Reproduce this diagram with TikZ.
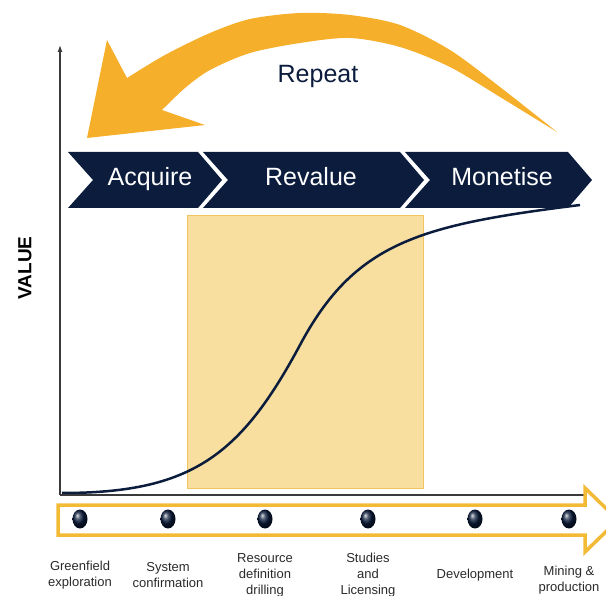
\documentclass[tikz,border=0pt]{standalone}
\usepackage{fontspec}
\setmainfont{Liberation Sans}
\usepackage{tikz}
\usetikzlibrary{
    arrows.meta,
    shapes.geometric
}

\definecolor{phasenavy}{HTML}{0B1C3D}
\definecolor{repeatorange}{HTML}{F5AF2B}
\definecolor{zonefill}{HTML}{F8DF9F}
\definecolor{zoneline}{HTML}{F0C45E}
\definecolor{lineorange}{HTML}{F3BA35}
\definecolor{labelgrey}{HTML}{2A2A2A}
\definecolor{axisgrey}{HTML}{3A3A3A}

\begin{document}
\begin{tikzpicture}[
        x=1pt,
        y=-1pt,
        phase/.style={
            text=white,
            anchor=base,
            font=\fontsize{25}{30}\selectfont
        },
        stage/.style={
            align=center,
            text=labelgrey,
            font=\fontsize{13}{16}\selectfont
        },
        milestone/.style={
            ellipse,
            minimum width=15pt,
            minimum height=19pt,
            inner sep=0pt,
            shading=ball,
            ball color=phasenavy
        },
        zone/.style={
            rectangle,
            draw=zoneline,
            fill=zonefill,
            line width=1pt,
            minimum width=236pt,
            minimum height=272pt,
            inner sep=0pt
        },
        axis/.style={
            -{Latex[length=7pt, width=5pt]},
            line width=1.2pt,
            draw=axisgrey
        },
        timeline/.style={
            draw=lineorange,
            fill=white,
            line width=3.5pt,
            line join=miter
        },
        valuecurve/.style={
            draw=phasenavy,
            line width=2.5pt
        }
    ]

    \useasboundingbox (0,0) rectangle (606,596);

    \node[zone] (revaluezone) at (305,352) {};

    % s-curve
    \draw[valuecurve] (62,493)
        .. controls (190,493) and (240,457) .. (300,345)
        .. controls (355,242) and (420,225) .. (580,205);

    \coordinate (origin) at (60,495);
    \coordinate (ytop) at (60,45);
    \coordinate (xend) at (595,495);
    \draw[axis] (origin) -- (ytop);
    \draw[axis] (origin) -- (xend);

    \node[rotate=90, font=\bfseries\fontsize{19}{22}\selectfont] (valuelabel)
        at (25,268) {VALUE};

    % phase band
    \foreach \xa/\xb/\xt/\lbl/\nm in {
            68/198/150/Acquire/acquire,
            203/400/311/Revalue/revalue,
            405/568/502/Monetise/monetise} {
        \fill[phasenavy] (\xa,152) -- (\xb,152) -- (\xb+24,180) -- (\xb,208)
            -- (\xa,208) -- (\xa+25,180) -- cycle;
        \node[phase] (\nm) at (\xt,186) {\lbl};
    }

    % curved repeat arrow
    \fill[repeatorange]
        plot[smooth] coordinates {(557,132) (500,87) (450,50) (400,25)
            (350,15) (300,13) (250,19) (210,33) (165,55) (127,78)}
        -- (107,40) -- (87,138) -- (205,125) -- (162,110)
        -- plot[smooth] coordinates {(162,110) (185,88) (210,70) (250,53)
            (300,43) (350,38) (400,47) (450,67) (500,97) (557,132)}
        -- cycle;

    \node[text=phasenavy, font=\fontsize{25}{30}\selectfont] (repeat)
        at (318,76) {Repeat};

    % timeline
    \draw[timeline] (58,505) -- (585,505) -- (585,488) -- (618,520)
        -- (585,552) -- (585,535) -- (58,535) -- cycle;

    \foreach \x [count=\i] in {80,168,265,368,475,569}
        \node[milestone] (m\i) at (\x,519) {};

    \coordinate (labelrow) at (0,575);
    \node[stage] (greenfield) at (m1 |- labelrow) {Greenfield\\exploration};
    \node[stage] (system) at (m2 |- labelrow) {System\\confirmation};
    \node[stage] (resource) at (m3 |- labelrow) {Resource\\definition\\drilling};
    \node[stage] (studies) at (m4 |- labelrow) {Studies\\and\\Licensing};
    \node[stage] (development) at (m5 |- labelrow) {Development};
    \node[stage, yshift=-5pt] (mining) at (m6 |- labelrow) {Mining \&\\production};

\end{tikzpicture}
\end{document}
